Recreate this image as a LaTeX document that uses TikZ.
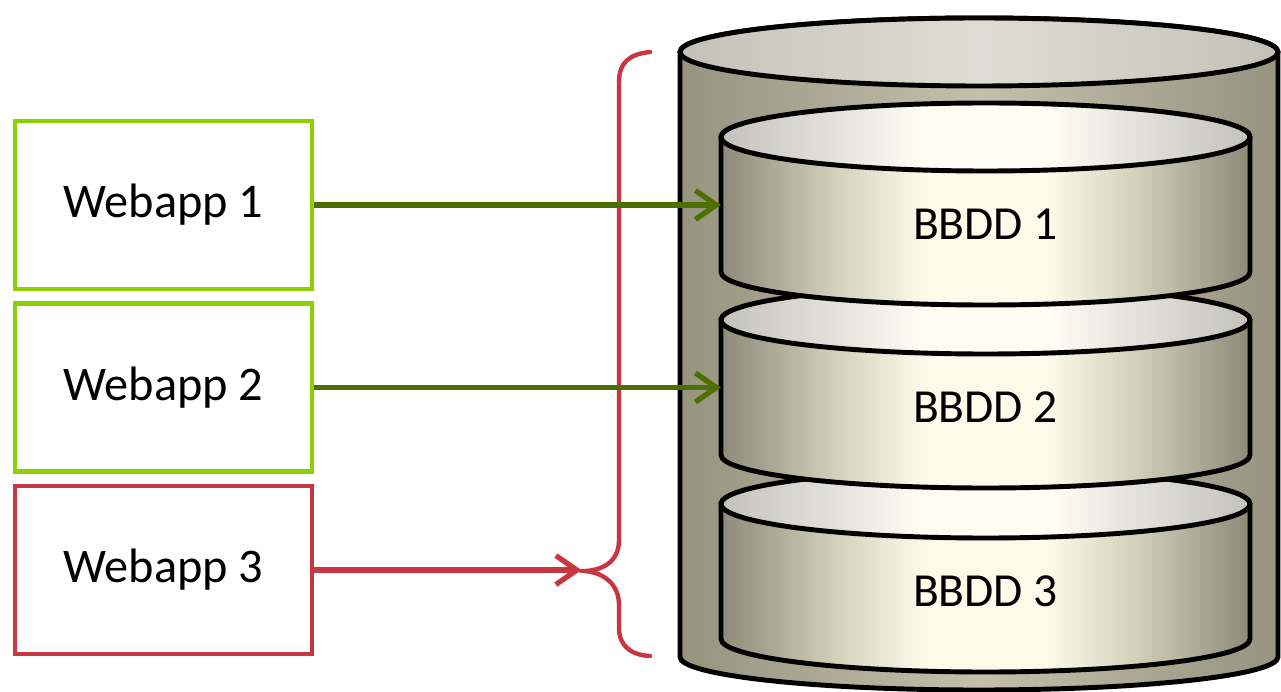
\documentclass[tikz,border=0pt]{standalone}
\usepackage{fontspec}
\setmainfont{Carlito}
\usepackage{xcolor}
\usepackage{tikz}
\usetikzlibrary{arrows.meta}
\usetikzlibrary{positioning}
\definecolor{appgreen}{RGB}{140,208,0}
\definecolor{linkgreen}{RGB}{76,112,0}
\definecolor{appred}{RGB}{200,55,65}
\definecolor{caseedge}{RGB}{150,147,126}
\definecolor{casemid}{RGB}{196,192,172}
\definecolor{casetopedge}{RGB}{196,194,184}
\definecolor{casetopmid}{RGB}{222,220,212}
\definecolor{diskedge}{RGB}{140,138,120}
\definecolor{diskhalf}{RGB}{212,209,188}
\definecolor{diskmid}{RGB}{252,250,232}
\definecolor{disktopedge}{RGB}{196,194,188}
\definecolor{disktophalf}{RGB}{228,226,220}
\definecolor{disktopmid}{RGB}{255,253,244}
\pgfdeclarehorizontalshading{diskshade}{100bp}{color(0bp)=(diskedge); color(25bp)=(diskedge); color(36bp)=(diskhalf); color(44bp)=(diskmid); color(56bp)=(diskmid); color(64bp)=(diskhalf); color(75bp)=(diskedge); color(100bp)=(diskedge)}
\pgfdeclarehorizontalshading{disktopshade}{100bp}{color(0bp)=(disktopedge); color(25bp)=(disktopedge); color(36bp)=(disktophalf); color(44bp)=(disktopmid); color(56bp)=(disktopmid); color(64bp)=(disktophalf); color(75bp)=(disktopedge); color(100bp)=(disktopedge)}
\tikzset{
    appbox/.style = {rectangle, align=center, fill=white, line width=2.6pt, minimum width=5.94cm, minimum height=3.36cm, font=\fontsize{27.5}{32}\selectfont},
    okapp/.style = {appbox, draw=appgreen},
    badapp/.style = {appbox, draw=appred},
    oklink/.style = {-{Straight Barb[length=0.42cm, width=0.58cm]}, draw=linkgreen, line width=3pt},
    badlink/.style = {-{Straight Barb[length=0.42cm, width=0.58cm]}, draw=appred, line width=3pt},
    casebody/.style = {draw=black, line width=2.8pt, left color=caseedge, right color=caseedge, middle color=casemid},
    casetop/.style = {draw=black, line width=2.8pt, left color=casetopedge, right color=casetopedge, middle color=casetopmid},
    diskbody/.style = {draw=black, line width=2.8pt, shading=diskshade},
    disktop/.style = {draw=black, line width=2.8pt, shading=disktopshade},
    disklabel/.style = {align=center, inner sep=0pt, font=\fontsize{27}{32}\selectfont},
    brace/.style = {draw=appred, line width=2.5pt, line cap=round}
}
% one database disk: name, y of top, label
\newcommand{\dbdisk}[3]{%
    \path[diskbody] (721,#2) -- (721,{#2-135}) arc (180:360:264.5 and 33) -- (1250,#2) arc (0:180:264.5 and 33) -- cycle;
    \path[disktop] (985.5,#2) ellipse (264.5 and 34);
    \node[disklabel] (#1) at (985.5,{#2-87}) {#3};
    \coordinate (#1w) at (721,{#2-70});
}

\begin{document}
\begin{tikzpicture}[x=0.02cm, y=0.02cm]
    \useasboundingbox (0,0) rectangle (1281,-692);
    % the server
    \path[casebody] (680,-52) -- (680,-657) arc (180:360:299 and 33) -- (1278,-52) arc (0:180:299 and 34) -- cycle;
    \path[casetop] (979,-52) ellipse (299 and 34);
    \dbdisk{db3}{-504}{BBDD 3}
    \dbdisk{db2}{-320}{BBDD 2}
    \dbdisk{db1}{-137}{BBDD 1}
    % the webapps
    \node[okapp] (app1) at (163.5,-205) {Webapp 1};
    \node[okapp, below=0.2cm of app1] (app2) {Webapp 2};
    \node[badapp, below=0.2cm of app2] (app3) {Webapp 3};
    % brace
    \coordinate (tip) at (585,-571);
    \draw[brace] (650,-52) .. controls (630,-54) and (619,-62) .. (619,-82) -- (619,-540)
        .. controls (619,-560) and (605,-570) .. (tip)
        .. controls (605,-573) and (619,-585) .. (619,-605) -- (619,-628)
        .. controls (619,-645) and (630,-655) .. (650,-656);
    % links
    \draw[oklink] (app1.east) -- (app1.east -| db1w);
    \draw[oklink] (app2.east) -- (app2.east -| db2w);
    \draw[badlink] (app3.east) -- ([xshift=-2]app3.east -| tip);
\end{tikzpicture}
\end{document}
